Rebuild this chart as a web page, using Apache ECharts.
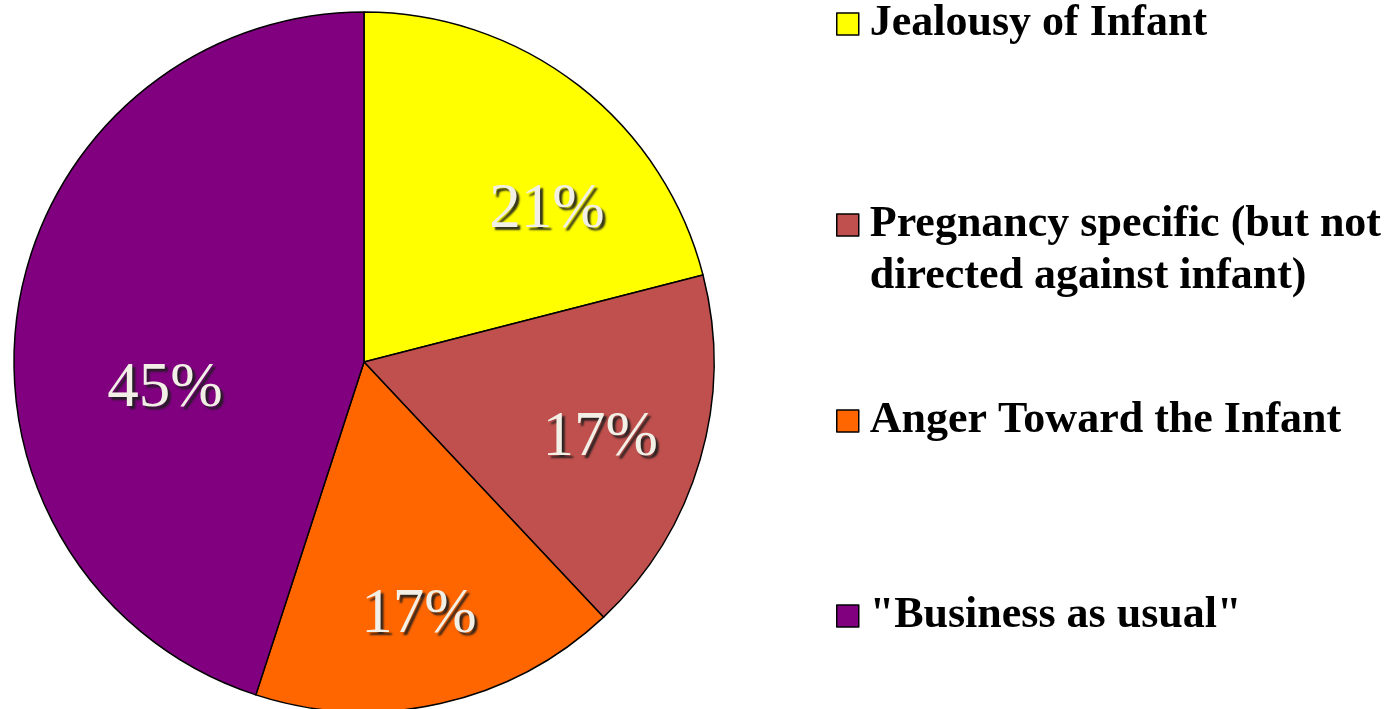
<!DOCTYPE html>
<html>
<head>
<meta charset="utf-8">
<script src="https://cdn.jsdelivr.net/npm/echarts@6/dist/echarts.min.js"></script>
<style>
html,body{margin:0;padding:0;background:#fff;}
#chart{width:1390px;height:709px;}
</style>
</head>
<body>
<div id="chart"></div>
<script>
// ---- data ----
const categories = ['Jealousy of Infant', 'Pregnancy specific (but not\ndirected against infant)', 'Anger Toward the Infant', '"Business as usual"'];
const values = [21, 17, 17, 45];
const labels = ['21%', '17%', '17%', '45%'];

// ---- styles ----
const colors = ['#FFFF00', '#C0504D', '#FF6600', '#800080'];
const labelOffsets = [[31, 44], [-2, 7], [1, 11], [46, 66]];
const legendTops = [-2, 147, 395, 590];

const center = [364, 362];
const R = 350;

const chart = echarts.init(document.getElementById('chart'), null, {renderer: 'canvas'});

const mainData = categories.map((c, i) => ({
  name: c, value: values[i],
  itemStyle: {color: colors[i]}
}));
const ghostData = categories.map((c, i) => ({
  name: c, value: values[i],
  label: {offset: labelOffsets[i], formatter: labels[i]}
}));

const legends = categories.map((c, i) => ({
  data: [c],
  left: 836,
  top: legendTops[i],
  orient: 'vertical',
  padding: 0,
  icon: 'rect',
  itemWidth: 22,
  itemHeight: 22,
  selectedMode: false,
  formatter: (name) => name.indexOf('\n') >= 0 ? '\n' + name : name,
  itemStyle: {borderColor: '#000', borderWidth: 1.5},
  textStyle: {
    fontFamily: '"Liberation Serif", "Times New Roman", serif',
    fontWeight: 'bold',
    fontSize: 44,
    lineHeight: 52,
    color: '#000',
    padding: [0, 0, 0, 6]
  }
}));

chart.setOption({
  animation: false,
  backgroundColor: '#fff',
  legend: legends,
  series: [
    {
      type: 'pie',
      center: center,
      radius: [0, R],
      startAngle: 90,
      clockwise: true,
      data: mainData,
      itemStyle: {borderColor: '#000', borderWidth: 1.5},
      label: {show: false},
      labelLine: {show: false},
      emphasis: {disabled: true}
    },
    {
      type: 'pie',
      center: center,
      radius: [0, 490],
      startAngle: 90,
      clockwise: true,
      silent: true,
      legendHoverLink: false,
      data: ghostData,
      itemStyle: {color: 'rgba(0,0,0,0)', borderWidth: 0},
      label: {
        show: true,
        position: 'inside',
        fontFamily: '"Liberation Serif", "Times New Roman", serif',
        fontSize: 63,
        color: '#F2F0E6',
        textShadowColor: 'rgba(30,30,30,0.9)',
        textShadowOffsetX: 3,
        textShadowOffsetY: 3,
        textShadowBlur: 2,
        textBorderWidth: 0
      },
      labelLine: {show: false},
      emphasis: {disabled: true}
    }
  ]
});
</script>
</body>
</html>
